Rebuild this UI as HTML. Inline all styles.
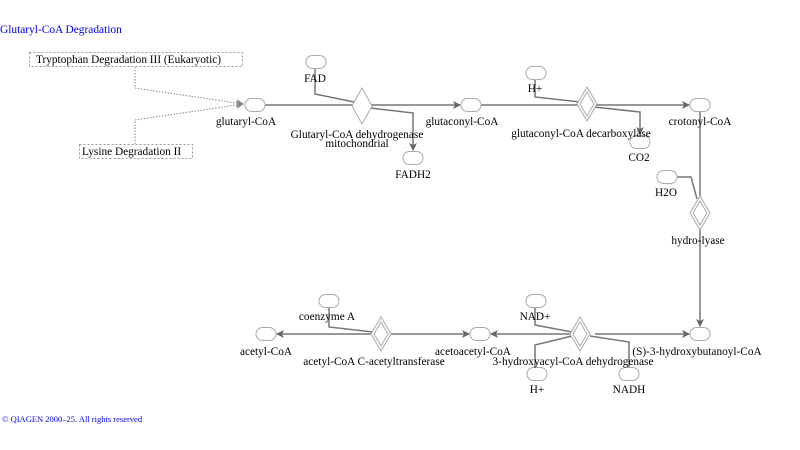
<!DOCTYPE html>
<html><head><meta charset="utf-8"><style>
html,body{margin:0;padding:0;background:#fff;width:800px;height:450px;overflow:hidden}
svg{display:block}
text{font-family:"Liberation Serif",serif;font-size:11.3px;fill:#000}
</style></head><body>
<svg width="800" height="450" viewBox="0 0 800 450" xmlns="http://www.w3.org/2000/svg">
<defs>
<marker id="a" markerWidth="8" markerHeight="8" refX="7" refY="4" orient="auto" markerUnits="userSpaceOnUse"><path d="M0,0 L8,4 L0,8 L2,4 z" fill="#666"/></marker>
<marker id="d" markerWidth="8" markerHeight="8" refX="7" refY="4" orient="auto" markerUnits="userSpaceOnUse"><path d="M0,0 L8,4 L0,8 L2,4 z" fill="#888"/></marker>
</defs>
<text x="0" y="33" style="fill:#0000ee;font-size:11.4px">Glutaryl-CoA Degradation</text>
<text x="2" y="422" style="fill:#0000ee;font-size:8.5px">© QIAGEN 2000–25. All rights reserved</text>

<g fill="none" stroke="#999" stroke-dasharray="2,2">
<rect x="29.5" y="52.5" width="213" height="14"/>
<rect x="79.5" y="144.5" width="113" height="14"/>
</g>
<g fill="none" stroke="#888" stroke-dasharray="1.5,1.5">
<path d="M135,67 L135,88 L243,104" marker-end="url(#d)"/>
<path d="M135,144 L135,120 L243,104" marker-end="url(#d)"/>
</g>
<text x="36" y="63">Tryptophan Degradation III (Eukaryotic)</text>
<text x="82" y="155">Lysine Degradation II</text>

<g fill="none" stroke="#777" stroke-width="1.5">
<path d="M265,105 L460,105" marker-end="url(#a)"/>
<path d="M315,68 L315,94 L354,102"/>
<path d="M370,108 L413,113 L413,150" marker-end="url(#a)"/>
<path d="M481,105 L689,105" marker-end="url(#a)"/>
<path d="M535,79 L535,97 L580,102"/>
<path d="M594,107 L640,112 L640,134" marker-end="url(#a)"/>
<path d="M700,112 L700,326" marker-end="url(#a)"/>
<path d="M677,177 L691,177 L697,199"/>
<path d="M595,334 L689,334" marker-end="url(#a)"/>
<path d="M572,334 L491,334" marker-end="url(#a)"/>
<path d="M535,307 L535,325 L572,332"/>
<path d="M572,336 L535,345 L535,367"/>
<path d="M590,336 L629,342 L629,367"/>
<path d="M389,334 L469,334" marker-end="url(#a)"/>
<path d="M373,334 L277,334" marker-end="url(#a)"/>
<path d="M329,307 L329,327 L373,332"/>
</g>

<g fill="#fff" stroke="#aaa" stroke-width="1">
<rect x="245" y="98.5" width="20" height="13" rx="6.5"/>
<rect x="306" y="55.5" width="20" height="13" rx="6.5"/>
<rect x="403" y="151.5" width="20" height="13" rx="6.5"/>
<rect x="461" y="98.5" width="20" height="13" rx="6.5"/>
<rect x="526" y="66.5" width="20" height="13" rx="6.5"/>
<rect x="630" y="135.5" width="20" height="13" rx="6.5"/>
<rect x="690" y="98.5" width="20" height="13" rx="6.5"/>
<rect x="657" y="170.5" width="20" height="13" rx="6.5"/>
<rect x="690" y="327.5" width="20" height="13" rx="6.5"/>
<rect x="470" y="327.5" width="20" height="13" rx="6.5"/>
<rect x="526" y="294.5" width="20" height="13" rx="6.5"/>
<rect x="527" y="367.5" width="20" height="13" rx="6.5"/>
<rect x="619" y="367.5" width="20" height="13" rx="6.5"/>
<rect x="256" y="327.5" width="20" height="13" rx="6.5"/>
<rect x="319" y="294.5" width="20" height="13" rx="6.5"/>
<path d="M362,88 L372,106 L362,124 L352,106 z"/>
<path d="M587,87 L597,104 L587,121 L577,104 z"/><path d="M587,92 L594,104 L587,116 L580,104 z"/>
<path d="M700,196 L710,213 L700,230 L690,213 z"/><path d="M700,201 L707,213 L700,225 L693,213 z"/>
<path d="M580,317 L590,334 L580,351 L570,334 z"/><path d="M580,322 L587,334 L580,346 L573,334 z"/>
<path d="M381,317 L391,334 L381,351 L371,334 z"/><path d="M381,322 L388,334 L381,346 L374,334 z"/>
</g>

<g text-anchor="middle">
<text x="246" y="125">glutaryl-CoA</text>
<text x="315" y="82">FAD</text>
<text x="357" y="138">Glutaryl-CoA dehydrogenase</text>
<text x="357" y="147">mitochondrial</text>
<text x="413" y="178">FADH2</text>
<text x="462" y="125">glutaconyl-CoA</text>
<text x="535" y="92">H+</text>
<text x="581" y="137">glutaconyl-CoA decarboxylase</text>
<text x="639" y="161">CO2</text>
<text x="700" y="125">crotonyl-CoA</text>
<text x="666" y="196">H2O</text>
<text x="698" y="244">hydro-lyase</text>
<text x="697" y="355">(S)-3-hydroxybutanoyl-CoA</text>
<text x="473" y="355">acetoacetyl-CoA</text>
<text x="535" y="320">NAD+</text>
<text x="573" y="365">3-hydroxyacyl-CoA dehydrogenase</text>
<text x="537" y="393">H+</text>
<text x="629" y="393">NADH</text>
<text x="266" y="355">acetyl-CoA</text>
<text x="327" y="320">coenzyme A</text>
<text x="374" y="365">acetyl-CoA C-acetyltransferase</text>
</g>
</svg>
</body></html>
